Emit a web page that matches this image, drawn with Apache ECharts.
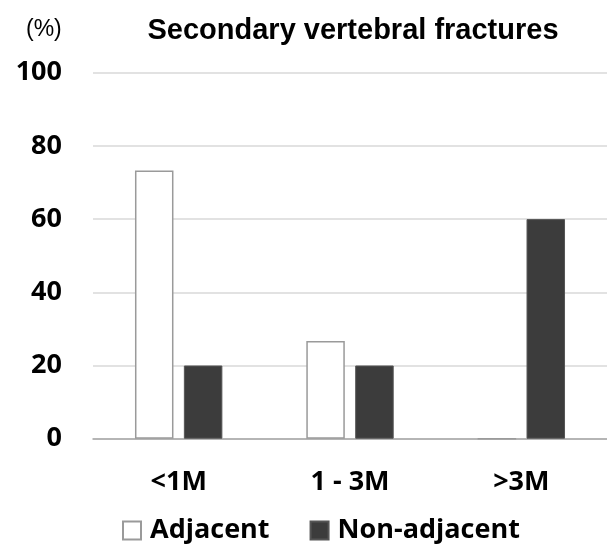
<!DOCTYPE html>
<html>
<head>
<meta charset="utf-8">
<script src="https://cdn.jsdelivr.net/npm/echarts@6/dist/echarts.min.js"></script>
<style>html,body{margin:0;padding:0;background:#fff;}#c{width:607px;height:550px;}</style>
</head>
<body>
<div id="c"></div>
<script>
const categories = ['<1M', '1 - 3M', '>3M'];
const adjacent = [73.3, 26.7, 0];
const nonAdjacent = [20, 20, 60];
const yTicks = [0, 20, 40, 60, 80, 100];

const chart = echarts.init(document.getElementById('c'));
chart.setOption({
  animation: false,
  backgroundColor: '#ffffff',
  title: [{
    text: 'Secondary vertebral fractures',
    left: 348, top: 11, textAlign: 'center',
    textStyle: {fontFamily: 'Liberation Sans', fontWeight: 'bold', fontSize: 29, color: '#000'}
  }, {
    text: '(%)',
    left: 21, top: 13,
    textStyle: {fontFamily: 'Liberation Sans', fontWeight: 'normal', fontSize: 23, color: '#000'}
  }],
  legend: {
    bottom: 1, left: 117,
    itemWidth: 18, itemHeight: 18, itemGap: 40,
    icon: 'rect',
    textStyle: {fontFamily: 'Open Sans', fontWeight: 'bold', fontSize: 27, color: '#000', padding: [0, 0, 0, 4]},
    data: ['Adjacent', 'Non-adjacent']
  },
  grid: {left: 93, right: 0, top: 72.7, bottom: 111.3, containLabel: false},
  xAxis: {
    type: 'category', data: categories,
    axisLine: {lineStyle: {color: '#a6a6a6', width: 1.5}},
    axisTick: {show: false},
    axisLabel: {fontFamily: 'Open Sans', fontWeight: 'bold', fontSize: 27, color: '#000', margin: 30}
  },
  yAxis: {
    type: 'value', min: 0, max: 100, interval: 20,
    axisLine: {show: false}, axisTick: {show: false},
    splitLine: {lineStyle: {color: '#d9d9d9', width: 1.5}},
    axisLabel: {fontFamily: 'Open Sans', fontWeight: 'bold', fontSize: 27, color: '#000', margin: 31,
      formatter: v => yTicks.includes(v) ? String(v) : ''}
  },
  series: [{
    name: 'Adjacent', type: 'bar', data: adjacent,
    barWidth: 38.5, barGap: '27%',
    itemStyle: {color: '#ffffff', borderColor: '#9a9a9a', borderWidth: 1.5}
  }, {
    name: 'Non-adjacent', type: 'bar', data: nonAdjacent,
    barWidth: 38.5,
    itemStyle: {color: '#3c3c3c', borderColor: '#555555', borderWidth: 1}
  }]
});
</script>
</body>
</html>
